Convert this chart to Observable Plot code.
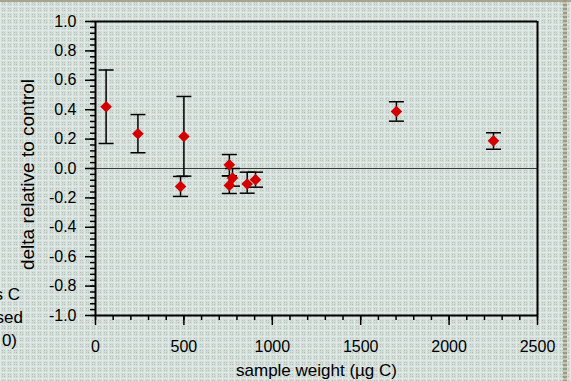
<!DOCTYPE html>
<html>
<head>
<meta charset="utf-8">
<script src="https://cdn.jsdelivr.net/npm/d3@7"></script>
<script src="https://cdn.jsdelivr.net/npm/@observablehq/plot@0.6"></script>
<style>
  html, body { margin: 0; padding: 0; width: 571px; height: 381px; overflow: hidden; }
  body {
    position: relative;
    font-family: "Liberation Sans", Arial, sans-serif;
    background-color: #d0dbd7;
    background-image: url("data:image/svg+xml;utf8,<svg xmlns='http://www.w3.org/2000/svg' width='6' height='6'><rect width='6' height='6' fill='%23d2ddd9'/><rect x='0' y='0' width='1' height='6' fill='%23dfe9e6'/><rect x='0' y='0' width='6' height='1' fill='%23dfe9e6'/><rect x='2' y='2' width='1' height='1' fill='%23b3bcb5'/><rect x='4' y='4' width='1' height='1' fill='%23b3bcb5'/><rect x='2' y='4' width='1' height='1' fill='%23bfc8c2'/><rect x='4' y='2' width='1' height='1' fill='%23bfc8c2'/></svg>");
  }
  #chart { position: absolute; left: 0; top: 0; }
  .strip-top { position: absolute; left: 0; top: 0; width: 571px; height: 2px; background: #a7a58f; }
  .strip-right { position: absolute; left: 563px; top: 0; width: 4px; height: 381px;
    background: repeating-linear-gradient(180deg, #9c9a84 0 2px, #c4c3b0 2px 4px); }
  .cut { position: absolute; font-size: 17px; color: #000; white-space: nowrap; text-align: right; }
</style>
</head>
<body>
<div class="strip-top"></div>
<div class="strip-right"></div>
<div id="chart"></div>
<div class="cut" style="right:551px; top:285px;">s C</div>
<div class="cut" style="right:548px; top:308px;">sed</div>
<div class="cut" style="right:554px; top:331px;">0)</div>
<script>
// sample weight (µg C)
const weights = [60, 240, 500, 481, 757, 775, 757, 858, 905, 1702, 2251];
// delta relative to control
const deltas  = [0.42, 0.236, 0.218, -0.122, 0.025, -0.065, -0.115, -0.105, -0.076, 0.388, 0.188];
const lowErr  = [0.17, 0.107, -0.052, -0.19, -0.05, -0.12, -0.17, -0.168, -0.127, 0.322, 0.131];
const highErr = [0.67, 0.367, 0.49, -0.054, 0.095, 0.0, -0.05, -0.025, -0.025, 0.454, 0.243];

const xMajor = [0, 500, 1000, 1500, 2000, 2500];
const yMajor = [-1.0, -0.8, -0.6, -0.4, -0.2, 0.0, 0.2, 0.4, 0.6, 0.8, 1.0];
const xMinor = d3.range(0, 2501, 100);
const yMinor = d3.range(0, 51).map(i => -1 + i * 0.04);

const xLabel = "sample weight (µg C)";
const yLabel = "delta relative to control";

const data = weights.map((w, i) => ({x: w, y: deltas[i], lo: lowErr[i], hi: highErr[i]}));

const capSymbol = {
  draw(ctx, size) {
    const r = Math.sqrt(size / Math.PI);
    ctx.moveTo(-r, 0);
    ctx.lineTo(r, 0);
  }
};
const diamondSymbol = {
  draw(ctx, size) {
    const r = Math.sqrt(size / Math.PI);
    ctx.moveTo(0, -r);
    ctx.lineTo(r, 0);
    ctx.lineTo(0, r);
    ctx.lineTo(-r, 0);
    ctx.closePath();
  }
};

const chart = Plot.plot({
  width: 571,
  height: 381,
  marginLeft: 95,
  marginRight: 34,
  marginTop: 21,
  marginBottom: 66,
  style: {background: "transparent", fontFamily: "'Liberation Sans', Arial, sans-serif", fontSize: "16px", color: "black", overflow: "visible"},
  x: {domain: [0, 2500]},
  y: {domain: [-1, 1]},
  marks: [
    Plot.ruleY([0], {stroke: "#3a3a3a", strokeWidth: 1.2}),
    Plot.axisX(xMinor, {tickSize: 5, tickFormat: () => "", label: null, stroke: "black", strokeWidth: 1.5}),
    Plot.axisX(xMajor, {tickSize: 10, tickPadding: 15, tickFormat: d => String(d), label: null, stroke: "black", strokeWidth: 1.5, fontSize: 16}),
    Plot.axisY(yMinor, {tickSize: 5, tickFormat: () => "", label: null, stroke: "black", strokeWidth: 1.5}),
    Plot.axisY(yMajor, {tickSize: 10, tickPadding: 9, tickFormat: d => d.toFixed(1), label: null, stroke: "black", strokeWidth: 1.5, fontSize: 16}),
    Plot.ruleX([0], {stroke: "black", strokeWidth: 2}),
    Plot.ruleY([-1], {stroke: "black", strokeWidth: 2}),
    Plot.ruleX([2500], {stroke: "black", strokeWidth: 2}),
    Plot.ruleY([1], {stroke: "black", strokeWidth: 2}),
    Plot.ruleX(data, {x: "x", y1: "lo", y2: "hi", stroke: "black", strokeWidth: 1.5}),
    Plot.dot(data, {x: "x", y: "lo", symbol: capSymbol, r: 7.5, stroke: "black", strokeWidth: 1.5, fill: "none"}),
    Plot.dot(data, {x: "x", y: "hi", symbol: capSymbol, r: 7.5, stroke: "black", strokeWidth: 1.5, fill: "none"}),
    Plot.dot(data, {x: "x", y: "y", symbol: diamondSymbol, r: 5.8, fill: "#d20000", stroke: "none"}),
    Plot.text([xLabel], {frameAnchor: "bottom", dy: 60, text: d => d, fontSize: 17, fill: "black"}),
    Plot.text([yLabel], {frameAnchor: "left", textAnchor: "middle", dx: -68, dy: 6, rotate: -90, text: d => d, fontSize: 19, fill: "black"})
  ]
});
document.getElementById("chart").appendChild(chart);
</script>
</body>
</html>
